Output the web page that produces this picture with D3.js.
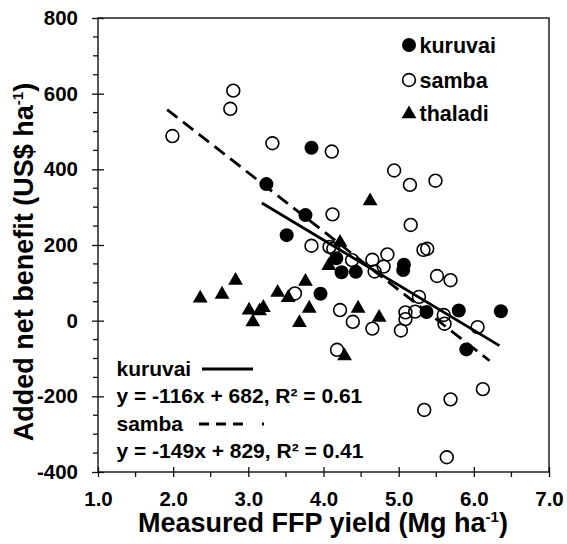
<!DOCTYPE html>
<html>
<head>
<meta charset="utf-8">
<script src="https://cdn.jsdelivr.net/npm/d3@7"></script>
<style>
  body { margin: 0; background: #fff; }
  svg { display: block; font-family: Arial, "Liberation Sans", sans-serif; font-weight: bold; }
</style>
</head>
<body>
<svg id="chart"></svg>
<script>
const width = 567
const height = 544

// measured FFP yield (Mg/ha), added net benefit (US$/ha)
const kuruvai = [
  [3.84, 457], [3.24, 361], [3.76, 279], [3.51, 226], [4.17, 165],
  [4.24, 128], [4.43, 129], [5.07, 148], [5.06, 134], [3.96, 71],
  [5.37, 23], [5.80, 27], [6.36, 25], [5.90, -76]
]
const samba = [
  [1.99, 488], [2.76, 560], [2.80, 608], [3.32, 469], [4.11, 447],
  [4.12, 281], [3.84, 198], [4.08, 195], [4.13, 190], [4.94, 397],
  [5.15, 359], [5.49, 370], [5.16, 253], [5.33, 187], [5.38, 190],
  [4.38, 160], [4.65, 161], [4.85, 175], [4.80, 143], [4.68, 130],
  [5.51, 118], [5.69, 107], [3.62, 72], [4.22, 28], [4.39, -3],
  [4.65, -21], [5.09, 22], [5.09, 4], [5.03, -26], [5.22, 24],
  [5.27, 63], [5.60, 15], [5.61, -8], [6.05, -17], [4.18, -77],
  [6.12, -181], [5.69, -208], [5.34, -236], [5.64, -361]
]
const thaladi = [
  [2.36, 62], [2.65, 72], [2.83, 109], [3.01, 30], [3.06, -1],
  [3.15, 28], [3.20, 37], [3.39, 77], [3.53, 63], [3.68, -3],
  [3.76, 106], [3.81, 35], [4.07, 148], [4.22, 209], [4.46, 35],
  [4.62, 319], [4.74, 11], [4.28, -91]
]
const kuruvaiFit = [[3.18, 311], [6.34, -66]]
const sambaFit = [[1.92, 558], [6.21, -106]]

const xTicks = [1, 2, 3, 4, 5, 6, 7]
const yTicks = [-400, -200, 0, 200, 400, 600, 800]
const legendNames = ['kuruvai', 'samba', 'thaladi']
const fitLabels = [
  ['kuruvai', 'y = -116x + 682, R² = 0.61'],
  ['samba', 'y = -149x + 829, R² = 0.41']
]

const x = d3.scaleLinear().domain([1, 7]).range([98, 549])
const y = d3.scaleLinear().domain([-400, 800]).range([472, 18])

const svg = d3.select('#chart').attr('width', width).attr('height', height)

// minor ticks (outward only)
const xMinor = d3.range(1.5, 7, 1)
const yMinor = d3.range(-350, 800, 50).filter(v => v % 200 !== 0)

svg.append('g').selectAll('line').data(xMinor).enter().append('line')
  .attr('x1', d => x(d)).attr('x2', d => x(d))
  .attr('y1', 472).attr('y2', 477)
  .attr('stroke', '#111').attr('stroke-width', 1.3)

svg.append('g').selectAll('line').data(yMinor).enter().append('line')
  .attr('x1', 93).attr('x2', 98)
  .attr('y1', d => y(d)).attr('y2', d => y(d))
  .attr('stroke', '#111').attr('stroke-width', 1.3)

// major ticks crossing the axis
const xAxis = svg.append('g').attr('transform', 'translate(0,472)')
  .call(d3.axisBottom(x).tickValues(xTicks).tickSize(5).tickFormat(d => d.toFixed(1)))
xAxis.attr('font-family', null)
xAxis.select('.domain').remove()
xAxis.selectAll('.tick line').attr('y1', -5).attr('stroke', '#111').attr('stroke-width', 1.3)
xAxis.selectAll('.tick text').attr('y', 19).attr('dy', '0.71em')
  .attr('font-size', 20.5).attr('fill', '#000')

const yAxis = svg.append('g').attr('transform', 'translate(98,0)')
  .call(d3.axisLeft(y).tickValues(yTicks).tickSize(6).tickFormat(d => String(d)))
yAxis.attr('font-family', null)
yAxis.select('.domain').remove()
yAxis.selectAll('.tick line').attr('x1', 6).attr('stroke', '#111').attr('stroke-width', 1.3)
yAxis.selectAll('.tick text').attr('x', -20)
  .attr('font-size', 20.5).attr('fill', '#000')

// frame
svg.append('rect')
  .attr('x', x(1)).attr('y', y(800))
  .attr('width', x(7) - x(1)).attr('height', y(-400) - y(800))
  .attr('fill', 'none').attr('stroke', '#111').attr('stroke-width', 1.4)

// trend lines
const line = d3.line().x(d => x(d[0])).y(d => y(d[1]))
svg.append('path').datum(kuruvaiFit).attr('d', line)
  .attr('stroke', '#000').attr('stroke-width', 2.8).attr('fill', 'none')
svg.append('path').datum(sambaFit).attr('d', line)
  .attr('stroke', '#000').attr('stroke-width', 2.8).attr('fill', 'none')
  .attr('stroke-dasharray', '13,7')

// points
const tri = d3.symbol().type(d3.symbolTriangle).size(95)

svg.append('g').selectAll('circle').data(samba).enter().append('circle')
  .attr('cx', d => x(d[0])).attr('cy', d => y(d[1])).attr('r', 6.4)
  .attr('fill', 'none').attr('stroke', '#000').attr('stroke-width', 1.6)

svg.append('g').selectAll('circle').data(kuruvai).enter().append('circle')
  .attr('cx', d => x(d[0])).attr('cy', d => y(d[1])).attr('r', 7)
  .attr('fill', '#000')

svg.append('g').selectAll('path').data(thaladi).enter().append('path')
  .attr('d', tri)
  .attr('transform', d => `translate(${x(d[0])},${y(d[1]) + 1})`)
  .attr('fill', '#000')

// legend top right
const leg = svg.append('g')
const legY = [45, 80, 113]
legendNames.forEach((name, i) => {
  if (i === 0) {
    leg.append('circle').attr('cx', 409).attr('cy', legY[i]).attr('r', 7).attr('fill', '#000')
  } else if (i === 1) {
    leg.append('circle').attr('cx', 409).attr('cy', legY[i]).attr('r', 6.4)
      .attr('fill', 'none').attr('stroke', '#000').attr('stroke-width', 1.6)
  } else {
    leg.append('path').attr('d', tri).attr('transform', `translate(409,${legY[i] + 1})`).attr('fill', '#000')
  }
  leg.append('text').attr('x', 419.5).attr('y', legY[i]).attr('dy', '0.36em')
    .attr('font-size', 21.5).text(name)
})

// fit equations
const eqY = [368, 423]
fitLabels.forEach((lab, i) => {
  svg.append('text').attr('x', 116.5).attr('y', eqY[i]).attr('dy', '0.36em')
    .attr('font-size', 21).text(lab[0])
  svg.append('text').attr('x', 116.5).attr('y', eqY[i] + 27).attr('dy', '0.36em')
    .attr('font-size', 21).text(lab[1])
})
svg.append('line').attr('x1', 202).attr('x2', 253).attr('y1', 369).attr('y2', 369)
  .attr('stroke', '#000').attr('stroke-width', 2.8)
svg.append('line').attr('x1', 199).attr('x2', 264).attr('y1', 424).attr('y2', 424)
  .attr('stroke', '#000').attr('stroke-width', 2.8).attr('stroke-dasharray', '10,7,10,7,10,19,2')

// axis titles
const xt = svg.append('text').attr('x', 323).attr('y', 532).attr('text-anchor', 'middle')
  .attr('font-size', 27)
xt.append('tspan').text('Measured FFP yield (Mg ha')
xt.append('tspan').attr('font-size', 15).attr('dy', -10).text('-1')
xt.append('tspan').attr('dy', 10).text(')')

const yt = svg.append('text').attr('transform', 'translate(33,262) rotate(-90)')
  .attr('text-anchor', 'middle').attr('font-size', 27)
yt.append('tspan').text('Added net benefit (US$ ha')
yt.append('tspan').attr('font-size', 15).attr('dy', -10).text('-1')
yt.append('tspan').attr('dy', 10).text(')')
</script>
</body>
</html>
